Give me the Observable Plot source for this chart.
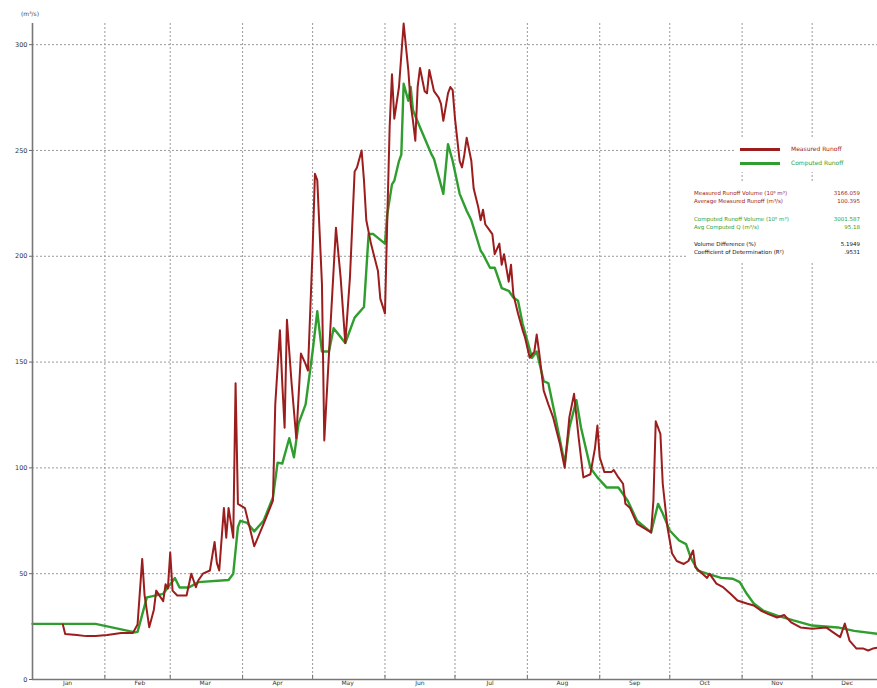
<!DOCTYPE html>
<html>
<head>
<meta charset="utf-8">
<script src="https://cdn.jsdelivr.net/npm/d3@7"></script>
<script src="https://cdn.jsdelivr.net/npm/@observablehq/plot@0.6"></script>
<style>
  body { margin: 0; background: #fff; }
  #wrap { position: relative; width: 877px; height: 688px; overflow: hidden; font-family: "DejaVu Sans", Verdana, sans-serif; }
  #unit { position: absolute; left: 21px; top: 10px; font-size: 6px; color: #444; }
  #keys { position: absolute; left: 736px; top: 138px; width: 141px; height: 34px; background: #fff; }
  #stats { position: absolute; left: 686px; top: 181px; width: 191px; height: 82px; background: #fff; }
  .key { position: absolute; left: 4px; height: 10px; font-size: 6px; line-height: 10px; }
  .key i { position: absolute; left: 0; top: 4px; width: 40px; height: 2.5px; }
  .key span { position: absolute; left: 51px; white-space: nowrap; }
  .row { position: absolute; left: 8px; width: 166px; font-size: 5.5px; line-height: 8px; white-space: nowrap; }
  .row b { font-weight: normal; position: absolute; right: 0; }
</style>
</head>
<body>
<div id="wrap">
  <div id="chart"></div>
  <div id="unit">(m³/s)</div>
  <div id="keys"></div>
  <div id="stats"></div>
</div>
<script>
// Daily runoff at the gauge (m³/s), by day of year (0 = 1 January)
const measuredDay = [13,14,19,23,27,32,38,43,45,47,48,50,52,53,56,57,58,59,60,62,66,68,70,71,73,76,78,79,80,82,83,84,86,87,88,91,95,99,103,104,106,107,108,109,111,113,115,117,118,120,121,122,124,125,128,130,132,134,136,138,139,141,142,143,145,148,149,151,152,153,154,155,157,159,161,162,163,164,165,166,168,169,170,172,174,175,176,178,179,180,181,183,184,185,186,188,189,191,192,193,194,195,197,198,200,201,202,204,205,206,208,210,211,213,215,216,217,219,221,223,226,228,230,232,234,236,239,241,242,243,245,248,249,251,253,254,256,259,265,266,267,269,270,272,274,276,279,281,283,284,287,289,290,293,296,299,302,306,309,312,315,319,322,325,329,334,340,343,346,348,350,353,356,358,360,362];
const measuredQ = [26,21.5,21,20.5,20.5,21,22,22,26,57,40,24.7,33,42,37,45,43,60,42,39.7,39.7,50,43.6,46.8,50,51.5,65,55,51.5,81,67,81,67,140,83,81,63,73.5,84.5,130,165,140,119,170,140,114,154,149,146,203,239,236,187,113,174,213.5,190,159,190,240,242,250,236,217,206,193,180,173,218,261,286,265,280,310,288,272,264,254.6,280,289,278,277,288,278,275,272,264,277,280,278.5,265,245,242,248,256,245,232,223,217,222,215,213.5,210.5,201,206,196,201,188,196,182,173,165,161.6,152,155,163,155,136.5,130,124,111,100,124,135,114,95.5,97,109.6,120,105,98,98,99,95.5,92.5,83,81,73.5,69.5,84.5,122,116,92.5,72,59.5,56,54.6,56,61,53,50,48,50,45.3,43.5,40.5,37.3,35.9,35,32.6,31,29.3,30.5,27,24.6,24,24.6,22.3,20,26.4,18.4,14.6,14.6,13.7,14.6,15];

const computedDay = [0,27,44,45,49,56,61,63,67,71,84,86,88,89,92,95,99,103,105,107,110,112,114,117,120,122,124,127,129,134,138,142,144,146,151,152,154,155,157,158,159,161,162,163,166,171,172,176,178,180,183,186,188,192,193,196,198,201,204,206,208,210,214,216,219,221,224,228,230,233,235,239,242,246,251,255,259,265,268,270,273,277,280,282,285,289,295,300,303,306,309,313,319,326,334,345,352,362];
const computedQ = [26.3,26.3,22.3,22.5,38.8,40.5,48,43.5,43.5,46,47,50,72,75,74,70,75,86,102.5,102,114,105,121,130,155,174,155,155,166,159,171,176,210.5,210.5,206,220,234,235.7,245,248,281.5,273.5,280,269,261,248,246,229.5,253,245,229.5,221.5,217,202.6,201,194.6,194.6,185,183.7,180.5,179,168,152,155,141,140,124,102,119,132,119,100,95.5,90.7,90.7,84.5,75,69.5,83,78.4,70.4,65.7,64,57.6,51.5,50,48,47.6,46,40.5,35.9,32.6,30.2,27.9,25.5,24.6,23,21.6];

const monthNames = ["Jan","Feb","Mar","Apr","May","Jun","Jul","Aug","Sep","Oct","Nov","Dec"];
const yTicks = [0,50,100,150,200,250,300];

const seriesNames = ["Measured Runoff", "Computed Runoff"];
const seriesColors = ["#9c1d1d", "#2f9e2f"];

const statLabels = [
  "Measured Runoff Volume (10⁶ m³)", "Average Measured Runoff  (m³/s)",
  "Computed Runoff Volume (10⁶ m³)", "Avg Computed Q   (m³/s)",
  "Volume Difference (%)", "Coefficient of Determination (R²)"
];
const statValues = ["3166.059", "100.395", "3001.587", "95.18", "5.1949", ".9531"];
const statColors = ["#9c1d1d", "#9c1d1d", "#2f9e2f", "#2f9e2f", "#111", "#111"];
const statTops = [8, 16, 34, 42, 59, 67];

const year0 = Date.UTC(2001, 0, 1);
const toDate = d => new Date(year0 + d * 864e5);

const measured = measuredDay.map((d, i) => ({date: toDate(d), q: measuredQ[i]}));
const computed = computedDay.map((d, i) => ({date: toDate(d), q: computedQ[i]}));
const monthStarts = d3.range(1, 12).map(m => new Date(Date.UTC(2001, m, 1)));
const monthMids = d3.range(12).map(m => new Date(Date.UTC(2001, m, 16)));

const chart = Plot.plot({
  width: 877,
  height: 688,
  marginLeft: 32,
  marginRight: 0,
  marginTop: 23,
  marginBottom: 9,
  style: {fontFamily: "DejaVu Sans, Verdana, sans-serif", background: "#fff"},
  x: {type: "utc", domain: [toDate(0), toDate(362)]},
  y: {domain: [0, 310]},
  marks: [
    Plot.ruleX(monthStarts, {stroke: "#9a9a9a", strokeDasharray: "2,2", strokeWidth: 1}),
    Plot.ruleY(yTicks.slice(1), {stroke: "#9a9a9a", strokeDasharray: "2,2", strokeWidth: 1}),
    Plot.axisY({ticks: yTicks, tickSize: 3, tickPadding: 2, fontSize: 6.5, label: null, stroke: "#666", fill: "#333"}),
    Plot.axisX({ticks: monthMids, tickSize: 0, tickPadding: 1, fontSize: 6, label: null,
      tickFormat: d => monthNames[d.getUTCMonth()], fill: "#333"}),
    Plot.ruleX(monthStarts, {y1: 0, y2: 2, stroke: "#777"}),
    Plot.line(computed, {x: "date", y: "q", stroke: seriesColors[1], strokeWidth: 2.4, curve: "linear"}),
    Plot.line(measured, {x: "date", y: "q", stroke: seriesColors[0], strokeWidth: 2, curve: "linear"}),
    Plot.ruleX([toDate(0)], {stroke: "#777", strokeWidth: 1.6}),
    Plot.ruleY([0], {stroke: "#777", strokeWidth: 1.6})
  ]
});
document.getElementById("chart").append(chart);

// legend keys
const keys = document.getElementById("keys");
seriesNames.forEach((name, i) => {
  const k = document.createElement("div");
  k.className = "key";
  k.style.top = (6 + i * 14) + "px";
  k.innerHTML = `<i style="background:${seriesColors[i]}"></i><span style="color:${seriesColors[i]}">${name}</span>`;
  keys.append(k);
});

// run statistics
const stats = document.getElementById("stats");
statLabels.forEach((label, i) => {
  const r = document.createElement("div");
  r.className = "row";
  r.style.top = statTops[i] + "px";
  r.style.color = statColors[i];
  r.innerHTML = `${label}<b>${statValues[i]}</b>`;
  stats.append(r);
});
</script>
</body>
</html>
